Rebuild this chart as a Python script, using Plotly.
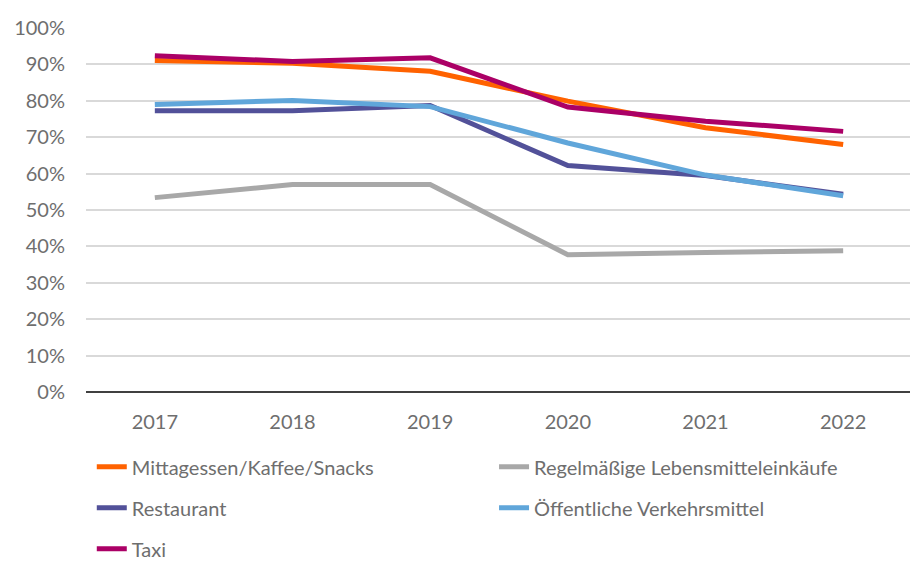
import plotly.graph_objects as go

years = ["2017", "2018", "2019", "2020", "2021", "2022"]
mittag = [91.1, 90.3, 88.1, 79.9, 72.6, 68.0]
regel = [53.4, 57.0, 57.0, 37.7, 38.3, 38.8]
restaurant = [77.3, 77.3, 78.7, 62.2, 59.5, 54.3]
oeffentlich = [79.0, 80.1, 78.4, 68.4, 59.6, 53.9]
taxi = [92.4, 90.8, 91.8, 78.3, 74.4, 71.6]

series = [
    ("Mittagessen/Kaffee/Snacks", mittag, "#FF6200", "legend"),
    ("Regelmäßige Lebensmitteleinkäufe", regel, "#A8A8A8", "legend2"),
    ("Restaurant", restaurant, "#525199", "legend"),
    ("Öffentliche Verkehrsmittel", oeffentlich, "#60A6DA", "legend2"),
    ("Taxi", taxi, "#AB0066", "legend"),
]

fig = go.Figure()
for name, vals, color, lg in series:
    fig.add_trace(go.Scatter(
        x=years, y=[v / 100 for v in vals], name=name, mode="lines",
        line=dict(color=color, width=5), legend=lg, legendgroup=name,
    ))

font_family = "Lato, 'Open Sans', sans-serif"
txt = "#6e6e6e"
fig.update_layout(
    width=910, height=558,
    margin=dict(l=78, r=6, t=20, b=174, autoexpand=False),
    paper_bgcolor="white", plot_bgcolor="white",
    font=dict(family=font_family, color=txt, size=20),
    legend=dict(x=0.007, y=-0.152, xanchor="left", yanchor="top",
                orientation="v", tracegroupgap=12,
                font=dict(size=20, color=txt)),
    legend2=dict(x=0.494, y=-0.152, xanchor="left", yanchor="top",
                 orientation="v", tracegroupgap=12,
                 font=dict(size=20, color=txt)),
)
fig.update_xaxes(
    type="category", range=[-0.5, 5.5], showgrid=False,
    showline=False, ticks="", ticklabelstandoff=16,
    tickfont=dict(size=20, color=txt),
)
fig.update_yaxes(
    range=[0, 1.0], tickvals=[i / 10 for i in range(11)], tickformat=".0%",
    showgrid=True, gridcolor="#D9D9D9", gridwidth=1.5,
    zeroline=True, zerolinecolor="#404040", zerolinewidth=2,
    showline=False, ticks="", ticklabelstandoff=20,
    tickfont=dict(size=20, color=txt),
)

fig.write_html("out.html")
